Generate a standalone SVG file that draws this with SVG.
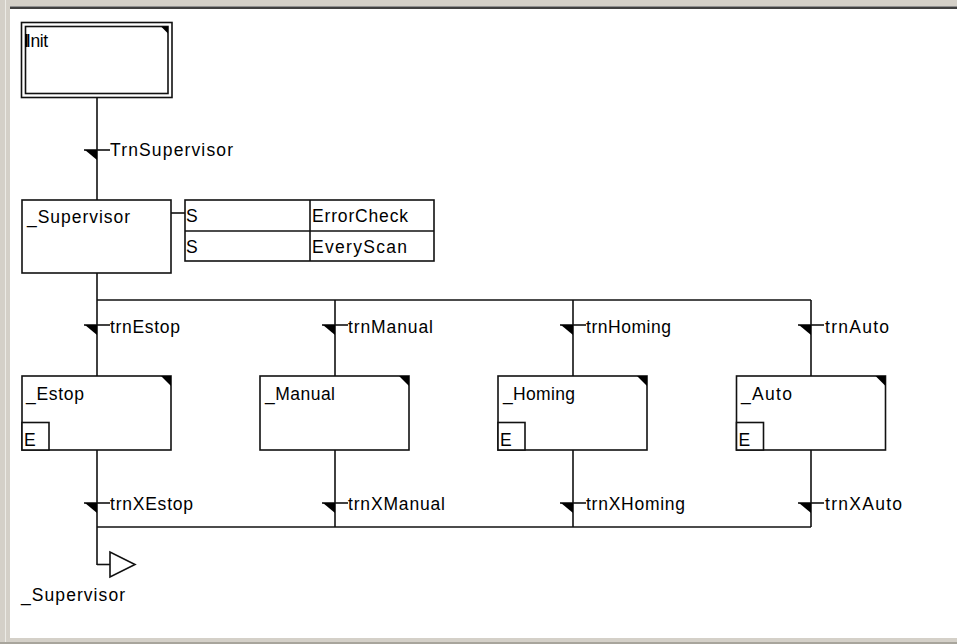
<svg xmlns="http://www.w3.org/2000/svg" width="957" height="644" viewBox="0 0 957 644">
<defs>
<style>
.ln{stroke:#111;stroke-width:1.6;fill:none}
.bx{stroke:#111;stroke-width:1.6;fill:#fff}
.tri{fill:#000;stroke:none}
.t{font-family:"Liberation Sans",Arial,sans-serif;font-size:17.5px;fill:#000}
</style>
</defs>
<!-- window chrome -->
<rect x="0" y="0" width="957" height="644" fill="#d4d0c8"/>
<rect x="5" y="0" width="1" height="644" fill="#ecebe6"/>
<rect x="10" y="6" width="947" height="1" fill="#909090"/>
<rect x="10" y="7" width="947" height="2" fill="#404040"/>
<rect x="10" y="9" width="947" height="629" fill="#ffffff"/>
<rect x="0" y="642" width="957" height="2" fill="#a8a59c"/>

<g id="connectors">
  <line class="ln" x1="97" y1="98" x2="97" y2="200"/>
  <line class="ln" x1="171" y1="213" x2="185" y2="213"/>
  <line class="ln" x1="97" y1="273" x2="97" y2="376"/>
  <line class="ln" x1="97" y1="300" x2="811" y2="300"/>
  <line class="ln" x1="335" y1="300" x2="335" y2="376"/>
  <line class="ln" x1="573" y1="300" x2="573" y2="376"/>
  <line class="ln" x1="811" y1="300" x2="811" y2="376"/>
  <line class="ln" x1="97" y1="450" x2="97" y2="565"/>
  <line class="ln" x1="335" y1="450" x2="335" y2="527"/>
  <line class="ln" x1="573" y1="450" x2="573" y2="527"/>
  <line class="ln" x1="811" y1="450" x2="811" y2="527"/>
  <line class="ln" x1="97" y1="527" x2="811" y2="527"/>
  <polyline class="ln" points="97,564.5 110,564.5"/>
</g>

<g id="transitions">
  <g id="TrnSupervisor">
    <line class="ln" x1="84" y1="150" x2="110" y2="150"/>
    <polygon class="tri" points="85,150 97,150 97,160"/>
    <text class="t" x="110" y="156" textLength="123" lengthAdjust="spacing">TrnSupervisor</text>
  </g>
  <g id="trnEstop">
    <line class="ln" x1="84" y1="325" x2="110" y2="325"/>
    <polygon class="tri" points="85,325 97,325 97,335"/>
    <text class="t" x="110" y="333" textLength="70" lengthAdjust="spacing">trnEstop</text>
  </g>
  <g id="trnManual">
    <line class="ln" x1="322" y1="325" x2="348" y2="325"/>
    <polygon class="tri" points="323,325 335,325 335,335"/>
    <text class="t" x="348" y="333" textLength="85" lengthAdjust="spacing">trnManual</text>
  </g>
  <g id="trnHoming">
    <line class="ln" x1="560" y1="325" x2="586" y2="325"/>
    <polygon class="tri" points="561,325 573,325 573,335"/>
    <text class="t" x="586" y="333" textLength="85" lengthAdjust="spacing">trnHoming</text>
  </g>
  <g id="trnAuto">
    <line class="ln" x1="798" y1="325" x2="824" y2="325"/>
    <polygon class="tri" points="799,325 811,325 811,335"/>
    <text class="t" x="825" y="333" textLength="64" lengthAdjust="spacing">trnAuto</text>
  </g>
  <g id="trnXEstop">
    <line class="ln" x1="84" y1="503" x2="110" y2="503"/>
    <polygon class="tri" points="85,503 97,503 97,513"/>
    <text class="t" x="110" y="510" textLength="83" lengthAdjust="spacing">trnXEstop</text>
  </g>
  <g id="trnXManual">
    <line class="ln" x1="322" y1="503" x2="348" y2="503"/>
    <polygon class="tri" points="323,503 335,503 335,513"/>
    <text class="t" x="348" y="510" textLength="97" lengthAdjust="spacing">trnXManual</text>
  </g>
  <g id="trnXHoming">
    <line class="ln" x1="560" y1="503" x2="586" y2="503"/>
    <polygon class="tri" points="561,503 573,503 573,513"/>
    <text class="t" x="586" y="510" textLength="99" lengthAdjust="spacing">trnXHoming</text>
  </g>
  <g id="trnXAuto">
    <line class="ln" x1="798" y1="503" x2="824" y2="503"/>
    <polygon class="tri" points="799,503 811,503 811,513"/>
    <text class="t" x="825" y="510" textLength="77" lengthAdjust="spacing">trnXAuto</text>
  </g>
</g>

<g id="Init">
  <rect class="bx" x="21.5" y="22.5" width="150.5" height="75"/>
  <rect class="bx" x="25.5" y="26.5" width="142.5" height="67"/>
  <polygon class="tri" points="161,26.5 168,26.5 168,33.5"/>
  <rect x="25" y="34" width="2.5" height="13" fill="#000"/>
  <text class="t" x="26" y="47" textLength="22" lengthAdjust="spacing">Init</text>
</g>

<g id="Supervisor">
  <rect class="bx" x="22" y="200" width="149" height="73"/>
  <text class="t" x="27" y="223" textLength="103" lengthAdjust="spacing">_Supervisor</text>
</g>

<g id="Actions">
  <rect class="bx" x="185" y="200" width="249" height="61"/>
  <line class="ln" x1="185" y1="231" x2="434" y2="231"/>
  <line class="ln" x1="310" y1="200" x2="310" y2="261"/>
  <text class="t" x="186" y="222">S</text>
  <text class="t" x="312" y="222" textLength="96" lengthAdjust="spacing">ErrorCheck</text>
  <text class="t" x="186" y="253">S</text>
  <text class="t" x="312" y="253" textLength="95" lengthAdjust="spacing">EveryScan</text>
</g>

<g id="Estop">
  <rect class="bx" x="22" y="376" width="149" height="74"/>
  <polygon class="tri" points="161,376 171,376 171,386"/>
  <rect class="bx" x="22" y="422.5" width="27" height="27.5"/>
  <text class="t" x="26" y="400" textLength="58" lengthAdjust="spacing">_Estop</text>
  <text class="t" x="24" y="446">E</text>
</g>

<g id="Manual">
  <rect class="bx" x="260" y="376" width="149" height="74"/>
  <polygon class="tri" points="399,376 409,376 409,386"/>
  <text class="t" x="265" y="400" textLength="70" lengthAdjust="spacing">_Manual</text>
</g>

<g id="Homing">
  <rect class="bx" x="498" y="376" width="149" height="74"/>
  <polygon class="tri" points="637,376 647,376 647,386"/>
  <rect class="bx" x="498" y="422.5" width="27" height="27.5"/>
  <text class="t" x="503" y="400" textLength="72" lengthAdjust="spacing">_Homing</text>
  <text class="t" x="500" y="446">E</text>
</g>

<g id="Auto">
  <rect class="bx" x="736.5" y="376" width="149" height="74"/>
  <polygon class="tri" points="875.5,376 885.5,376 885.5,386"/>
  <rect class="bx" x="736.5" y="422.5" width="27" height="27.5"/>
  <text class="t" x="741" y="400" textLength="51" lengthAdjust="spacing">_Auto</text>
  <text class="t" x="738.5" y="446">E</text>
</g>

<g id="JumpSupervisor">
  <polygon points="110,552 110,577 135,564.5" fill="#fff" stroke="#111" stroke-width="1.6"/>
  <text class="t" x="21" y="601" textLength="104" lengthAdjust="spacing">_Supervisor</text>
</g>
</svg>
